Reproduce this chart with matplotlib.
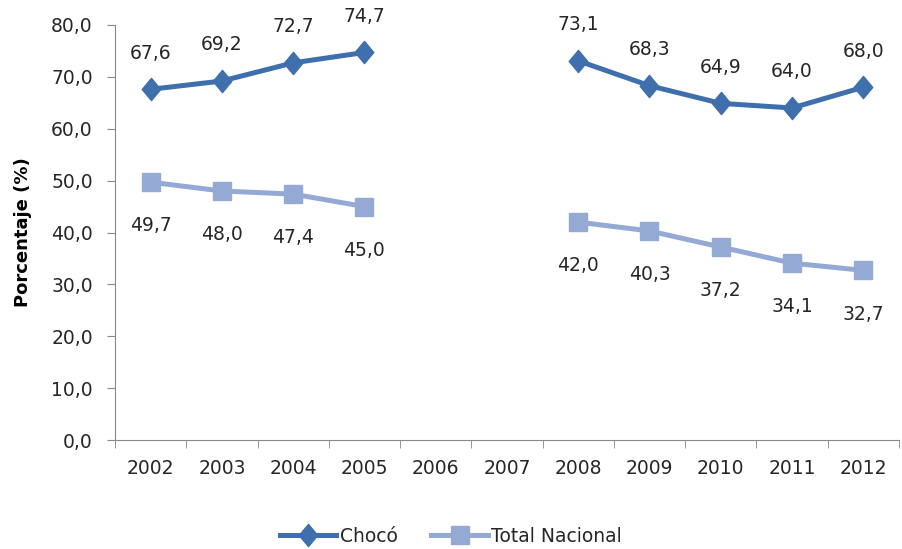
import matplotlib

matplotlib.use("Agg")
import matplotlib.pyplot as plt
import numpy as np
from matplotlib.path import Path

years = ["2002", "2003", "2004", "2005", "2006", "2007", "2008", "2009", "2010", "2011", "2012"]
choco = [67.6, 69.2, 72.7, 74.7, np.nan, np.nan, 73.1, 68.3, 64.9, 64.0, 68.0]
nacional = [49.7, 48.0, 47.4, 45.0, np.nan, np.nan, 42.0, 40.3, 37.2, 34.1, 32.7]

C_CHOCO = "#3F6FAD"
C_NAC = "#94A9D4"
TXT = "#262626"
FS = 13.5

# slightly tall diamond like the Excel marker
diamond = Path([(0, 1.2), (1, 0), (0, -1.2), (-1, 0), (0, 1.2)],
               [Path.MOVETO, Path.LINETO, Path.LINETO, Path.LINETO, Path.CLOSEPOLY])


def fmt(v):
    return f"{v:.1f}".replace(".", ",")


fig = plt.figure(figsize=(9.02, 5.49), dpi=100)
ax = fig.add_axes([0.1275, 0.1985, 0.869, 0.756])

x = np.arange(len(years))
ax.plot(x, choco, color=C_CHOCO, lw=3.6, marker=diamond, ms=16, label="Chocó")
ax.plot(x, nacional, color=C_NAC, lw=3.6, marker="s", ms=13, label="Total Nacional")

for xi, v in zip(x, choco):
    if not np.isnan(v):
        ax.annotate(fmt(v), (xi, v), xytext=(0, 26), textcoords="offset points",
                    ha="center", va="center", fontsize=FS, color=TXT)
for xi, v in zip(x, nacional):
    if not np.isnan(v):
        ax.annotate(fmt(v), (xi, v), xytext=(0, -31.5), textcoords="offset points",
                    ha="center", va="center", fontsize=FS, color=TXT)

ax.set_xlim(-0.5, len(years) - 0.5)
ax.set_ylim(0, 80)
ax.set_yticks(np.arange(0, 81, 10))
ax.set_yticklabels([fmt(v) for v in np.arange(0, 81, 10)], fontsize=FS, color=TXT)
ax.set_xticks(x)
ax.set_xticklabels(years, fontsize=FS, color=TXT)
ax.set_xticks(np.arange(-0.5, len(years), 1), minor=True)
ax.tick_params(axis="x", which="major", length=0, pad=14)
ax.tick_params(axis="x", which="minor", length=6, color="#888888", direction="out")
ax.tick_params(axis="y", length=6, color="#888888", direction="out", pad=10)

for s in ("top", "right"):
    ax.spines[s].set_visible(False)
for s in ("left", "bottom"):
    ax.spines[s].set_color("#888888")

ax.set_ylabel("Porcentaje (%)", fontsize=13, fontweight="bold", labelpad=14)

fig.legend(loc="lower center", bbox_to_anchor=(0.5, -0.025), ncol=2, frameon=False,
           fontsize=FS, handlelength=3.0, columnspacing=1.8, handletextpad=0.2,
           labelcolor=TXT)

fig.savefig("out.png", dpi=100)
